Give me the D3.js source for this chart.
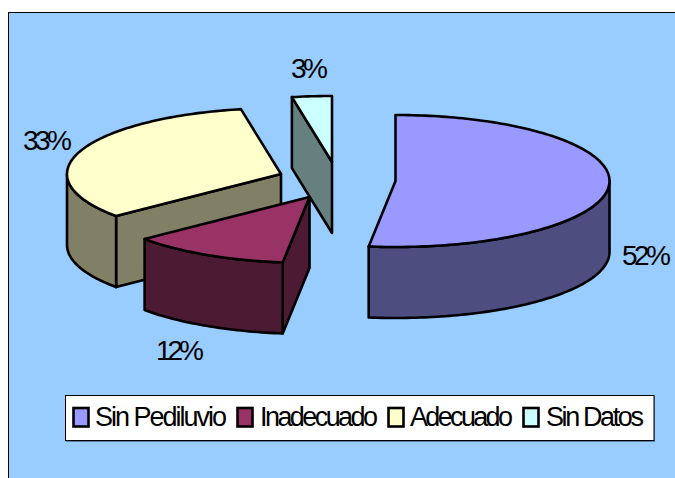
<!DOCTYPE html>
<html>
<head>
<meta charset="utf-8">
<script src="https://cdn.jsdelivr.net/npm/d3@7"></script>
<style>
  html, body { margin: 0; padding: 0; background: #fff; }
  svg { display: block; }
  text { font-family: "Liberation Sans", Arial, sans-serif; fill: #000; }
</style>
</head>
<body>
<div id="chart"></div>
<script>
// Share of farms by footbath condition
const categories = ["Sin Pediluvio", "Inadecuado", "Adecuado", "Sin Datos"];
const shares = [52, 12, 33, 3];

const topColors = ["#9999ff", "#993366", "#ffffcc", "#ccffff"];
const sideColors = ["#4d4d80", "#4d1a33", "#808066", "#668080"];

// Exploded position of each slice's apex on the canvas
const apexX = [395.5, 309.5, 281, 332];
const apexY = [181, 197, 174, 162];
// Percent label anchors and fitted widths
const labelX = [622, 156, 23, 291];
const labelY = [265, 360, 150, 78];
const labelW = [49, 48, 49, 37];
// Legend swatch and text positions
const swatchX = [73.5, 237.5, 388.5, 523.5];
const legendTextX = [95, 260, 410, 546];
const legendTextW = [132, 118, 103, 98];

const W = 675, H = 478;
const RX = 214, RY = 66, DEPTH = 71;
const STROKE = 2.6;

const svg = d3.select("#chart").append("svg").attr("width", W).attr("height", H);

// Chart frame: runs past the right and bottom edges of the page
svg.append("rect").attr("x", 8.5).attr("y", 12.5).attr("width", W + 10).attr("height", H + 10)
  .attr("fill", "#99ccff").attr("stroke", "#000").attr("stroke-width", 1);

const arcs = d3.pie().sort(null).value(d => d)(shares);

// Ellipse projection of the tilted disc
const px = (i, a) => apexX[i] + RX * Math.sin(a);
const py = (i, a) => apexY[i] - RY * Math.cos(a);

const line = d3.line().x(d => d[0]).y(d => d[1]);

function arcPoints(i, a0, a1) {
  const n = Math.max(2, Math.ceil(Math.abs(a1 - a0) / 0.02));
  return d3.range(n + 1).map(k => {
    const a = a0 + (a1 - a0) * k / n;
    return [px(i, a), py(i, a)];
  });
}

const drop = pts => pts.map(p => [p[0], p[1] + DEPTH]);
const wall = pts => line(pts.concat(drop(pts).reverse())) + "Z";

function face(g, d, fill) {
  g.append("path").attr("d", d).attr("fill", fill)
    .attr("stroke", "#000").attr("stroke-width", STROKE).attr("stroke-linejoin", "round");
}

// Painted back to front so nearer slices cover the farther ones
const order = [3, 2, 0, 1];
const HALF = Math.PI / 2;

order.forEach(i => {
  const { startAngle: a0, endAngle: a1 } = arcs[i];
  const g = svg.append("g");
  const apex = [apexX[i], apexY[i]];

  // Radial cut faces that turn toward the viewer
  if (i === 2 || i === 3) {
    face(g, wall([[px(i, a0), py(i, a0)], apex]), sideColors[i]);
  }
  if (i === 1) {
    face(g, wall([apex, [px(i, a0), py(i, a0)]]), sideColors[i]);
  }

  // Outer rim, limited to the front half of the ellipse
  const r0 = Math.max(a0, HALF), r1 = Math.min(a1, 3 * HALF);
  if (r1 > r0 && i !== 3) {
    face(g, wall(arcPoints(i, r0, r1)), sideColors[i]);
  }

  // Top surface
  face(g, line([apex].concat(arcPoints(i, a0, a1))) + "Z", topColors[i]);
});

// Percent labels
svg.append("g").selectAll("text").data(arcs).join("text")
  .attr("x", (d, i) => labelX[i])
  .attr("y", (d, i) => labelY[i])
  .attr("font-size", 28)
  .attr("textLength", (d, i) => labelW[i])
  .attr("lengthAdjust", "spacing")
  .text(d => d.value + "%");

// Legend
const legend = svg.append("g");
legend.append("rect").attr("x", 66).attr("y", 396).attr("width", 589).attr("height", 46).attr("fill", "#5f7f9f");
legend.append("rect").attr("x", 65.5).attr("y", 395.5).attr("width", 588.5).attr("height", 45)
  .attr("fill", "#fff").attr("stroke", "#000").attr("stroke-width", 1);

categories.forEach((name, i) => {
  legend.append("rect").attr("x", swatchX[i]).attr("y", 408).attr("width", 15).attr("height", 18.5)
    .attr("fill", topColors[i]).attr("stroke", "#000").attr("stroke-width", 2.6);
  legend.append("text").attr("x", legendTextX[i]).attr("y", 426)
    .attr("font-size", 27)
    .attr("textLength", legendTextW[i])
    .attr("lengthAdjust", "spacing")
    .text(name);
});
</script>
</body>
</html>
